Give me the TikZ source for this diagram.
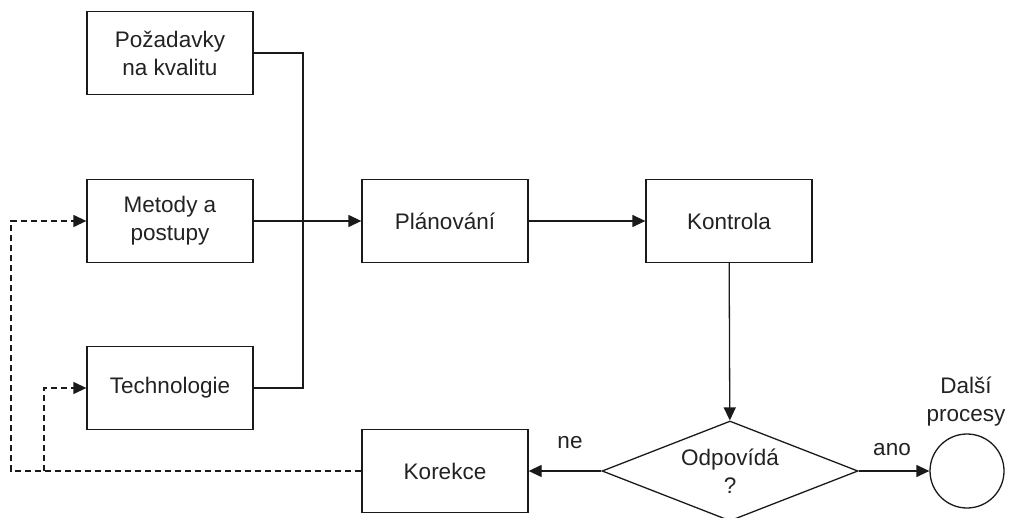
\documentclass[tikz,border=0pt]{standalone}
\usepackage{fontspec}
\setmainfont{Liberation Sans}
\usetikzlibrary{arrows.meta,shapes.geometric}
\definecolor{qLine}{HTML}{1A1A1A}
\definecolor{qText}{HTML}{222222}
\begin{document}
\begin{tikzpicture}[x=1pt, y=1pt, font=\fontsize{22.5}{28}\selectfont, text=qText,
  qbox/.style={draw=qLine, line width=1.3pt, minimum width=166pt, minimum height=83pt,
    inner sep=0pt, align=center},
  qarr/.style={draw=qLine, line width=1.3pt, -{Triangle[length=13pt, width=12pt]}},
  qfb/.style={qarr, dash pattern=on 6pt off 4pt}]
\useasboundingbox (0,0) rectangle (1011,517);
% inputs
\node[qbox] (pozad) at (170,464) {Požadavky\\na kvalitu};
\node[qbox] (metody) at (170,296) {Metody a\\postupy};
\node[qbox] (tech) at (170,129) {Technologie};
% main line
\node[qbox] (plan) at (445,296) {Plánování};
\node[qbox] (kontrola) at (729,296) {Kontrola};
\node[qbox] (korekce) at (445,46) {Korekce};
\node[draw=qLine, line width=1.3pt, shape=diamond, aspect=2.56, minimum width=256pt,
  minimum height=100pt, inner sep=0pt, align=center] (odp) at (730,46) {Odpovídá\\?};
\node[draw=qLine, line width=1.3pt, circle, minimum size=74pt, inner sep=0pt] (dalsi) at (967,46) {};
% labels
\node[align=center, inner sep=0pt] (dalsiLbl) at (966,115) {Další\\procesy};
\node (ne) at (570,74) {ne};
\node (ano) at (892,67) {ano};
% connectors
\coordinate (jbot) at (303,129);
\draw[draw=qLine, line width=1.3pt] (pozad.east) -| (jbot) -- (tech.east);
\draw[qarr] (metody) -- (plan);
\draw[qarr] (plan) -- (kontrola);
\draw[qarr] (kontrola) -- (odp);
\draw[qarr] (odp) -- (korekce);
\draw[qarr] (odp) -- (dalsi);
% feedback
\coordinate (fbOut) at (11,46);
\coordinate (fbIn) at (44,46);
\draw[qfb] (korekce.west) -- (fbOut) |- (metody.west);
\draw[qfb] (fbIn) |- (tech.west);
\end{tikzpicture}
\end{document}
